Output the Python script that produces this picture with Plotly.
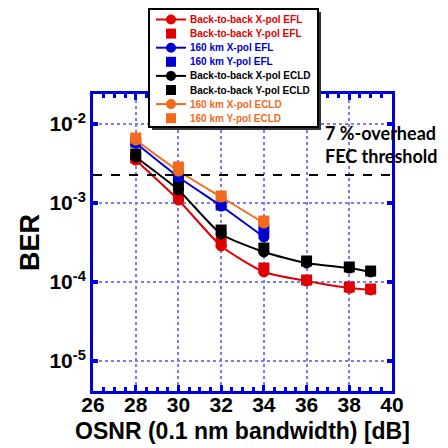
import plotly.graph_objects as go

osnr = [28, 30, 32, 34, 36, 38, 39]
osnr_160 = [28, 30, 32, 34]

# log10(BER) values
b2b_x_efl = [-2.456, -2.962, -3.544, -3.873, -3.987, -4.076, -4.101]
b2b_y_efl = [-2.430, -2.924, -3.494, -3.823, -3.975, -4.063, -4.089]
km160_x_efl = [-2.241, -2.671, -3.038, -3.430]
km160_y_efl = [-2.228, -2.646, -3.025, -3.342]
b2b_x_ecld = [-2.418, -2.835, -3.392, -3.620, -3.759, -3.823, -3.873]
b2b_y_ecld = [-2.380, -2.772, -3.342, -3.570, -3.734, -3.810, -3.861]
km160_x_ecld = [-2.203, -2.595, -2.924, -3.253]
km160_y_ecld = [-2.177, -2.544, -2.911, -3.228]

fec_threshold = 10 ** -2.646

names = ["Back-to-back X-pol EFL", "Back-to-back Y-pol EFL",
         "160 km X-pol EFL", "160 km Y-pol EFL",
         "Back-to-back X-pol ECLD", "Back-to-back Y-pol ECLD",
         "160 km X-pol ECLD", "160 km Y-pol ECLD"]

RED, BLUE, BLACK, ORANGE = "#e00000", "#0000d0", "#000000", "#f26a1b"
legend_colors = [RED, RED, BLUE, BLUE, BLACK, BLACK, ORANGE, ORANGE]
legend_pols = ["x", "y", "x", "y", "x", "y", "x", "y"]

series = [
    (osnr, b2b_x_efl, RED, "x", 0),
    (osnr, b2b_y_efl, RED, "y", 1),
    (osnr, b2b_x_ecld, BLACK, "x", 4),
    (osnr, b2b_y_ecld, BLACK, "y", 5),
    (osnr_160, km160_x_efl, BLUE, "x", 2),
    (osnr_160, km160_y_efl, BLUE, "y", 3),
    (osnr_160, km160_x_ecld, ORANGE, "x", 6),
    (osnr_160, km160_y_ecld, ORANGE, "y", 7),
]

# page body adds an 8px offset; figure is sized so the plot area lands at
# screen x 93..392, y 94..391
OFF = 8
W = H = 448 - OFF
PL, PR, PT, PB = 93, 392, 94, 391
ML, MT = PL - OFF, PT - OFF
MR, MB = 448 - PR, 448 - PB
PW, PH = PR - PL, PB - PT


def px(x):
    return (x - PL) / PW


def py(y):
    return (PB - y) / PH


fig = go.Figure()
for xs, ly, col, pol, idx in series:
    ys = [10 ** v for v in ly]
    if pol == "x":
        fig.add_trace(go.Scatter(x=xs, y=ys, mode="lines+markers", name=names[idx],
                                 line=dict(color=col, width=2, shape="spline", smoothing=0.6),
                                 marker=dict(symbol="circle", size=11, color=col),
                                 showlegend=False))
    else:
        fig.add_trace(go.Scatter(x=xs, y=ys, mode="markers", name=names[idx],
                                 marker=dict(symbol="square", size=11, color=col),
                                 showlegend=False))

# FEC threshold
fig.add_trace(go.Scatter(x=[26, 40], y=[fec_threshold, fec_threshold], mode="lines",
                         line=dict(color="black", width=2, dash="dash"),
                         showlegend=False, hoverinfo="skip"))

AX = "#0000dd"
GRID = "#7a7aff"
tickfont = dict(family="Liberation Sans, Arial", size=21, color="black", weight="bold")

fig.update_xaxes(range=[26, 40], dtick=2, tick0=26, automargin=False,
                 showline=True, linecolor=AX, linewidth=3, mirror="ticks",
                 ticks="inside", ticklen=6, tickwidth=3, tickcolor=AX,
                 minor=dict(dtick=0.5, ticks="inside", ticklen=4, tickwidth=3, tickcolor=AX, showgrid=False),
                 showgrid=True, gridcolor=GRID, griddash="dot", gridwidth=1.5,
                 zeroline=False, tickfont=tickfont, ticklabelstandoff=-7,
                 title=dict(text="<b>OSNR (0.1 nm bandwidth) [dB]</b>",
                            font=dict(family="Liberation Sans, Arial", size=23, color="black"),
                            standoff=8))
fig.update_yaxes(type="log", range=[-5.38, -1.62], automargin=False,
                 tickvals=[1e-2, 1e-3, 1e-4, 1e-5],
                 ticktext=["10<sup>-2</sup>", "10<sup>-3</sup>", "10<sup>-4</sup>", "10<sup>-5</sup>"],
                 showline=True, linecolor=AX, linewidth=3, mirror="ticks",
                 ticks="inside", ticklen=5, tickwidth=4, tickcolor=AX,
                 showgrid=True, gridcolor=GRID, griddash="dot", gridwidth=1.5,
                 zeroline=False, tickfont=tickfont,
                 title=dict(text="<b>BER</b>",
                            font=dict(family="Liberation Sans, Arial", size=27, color="black"),
                            standoff=2))

# FEC label
fig.add_annotation(x=px(323), y=py(144.5), xref="paper", yref="paper",
                   text="<b>7 %-overhead<br>FEC threshold</b>", showarrow=False,
                   xanchor="left", yanchor="middle", align="left",
                   font=dict(family="Lato, Liberation Sans", size=18, color="black"))

# Legend box (drawn as decoration)
shapes = []
bx0, bx1, by0, by1 = 149, 318, 9, 127
shapes.append(dict(type="rect", xref="paper", yref="paper", layer="above",
                   x0=px(bx0 + 3), x1=px(bx1 + 3), y0=py(by0 + 3), y1=py(by1 + 3),
                   line=dict(width=0), fillcolor="#333333"))
shapes.append(dict(type="rect", xref="paper", yref="paper", layer="above",
                   x0=px(bx0), x1=px(bx1), y0=py(by0), y1=py(by1),
                   line=dict(color="black", width=2), fillcolor="white"))
row0, drow = 19.5, 14.1
for i, (nm, col, pol) in enumerate(zip(names, legend_colors, legend_pols)):
    yc = row0 + i * drow
    if pol == "x":
        shapes.append(dict(type="line", xref="paper", yref="paper", layer="above",
                           x0=px(156), x1=px(186), y0=py(yc), y1=py(yc),
                           line=dict(color=col, width=2)))
        shapes.append(dict(type="circle", xref="paper", yref="paper", layer="above",
                           x0=px(171 - 5), x1=px(171 + 5), y0=py(yc - 5), y1=py(yc + 5),
                           line=dict(color=col, width=0), fillcolor=col))
    else:
        shapes.append(dict(type="rect", xref="paper", yref="paper", layer="above",
                           x0=px(171 - 5), x1=px(171 + 5), y0=py(yc - 5), y1=py(yc + 5),
                           line=dict(color=col, width=0), fillcolor=col))
    fig.add_annotation(x=px(188), y=py(yc), xref="paper", yref="paper",
                       text=f"<b>{nm}</b>", showarrow=False,
                       xanchor="left", yanchor="middle",
                       font=dict(family="Liberation Sans, Arial", size=10, color=col))

fig.update_layout(
    width=W, height=H,
    margin=dict(l=ML, r=MR, t=MT, b=MB),
    paper_bgcolor="white", plot_bgcolor="white",
    showlegend=False,
    shapes=shapes,
)

fig.write_html("out.html")
